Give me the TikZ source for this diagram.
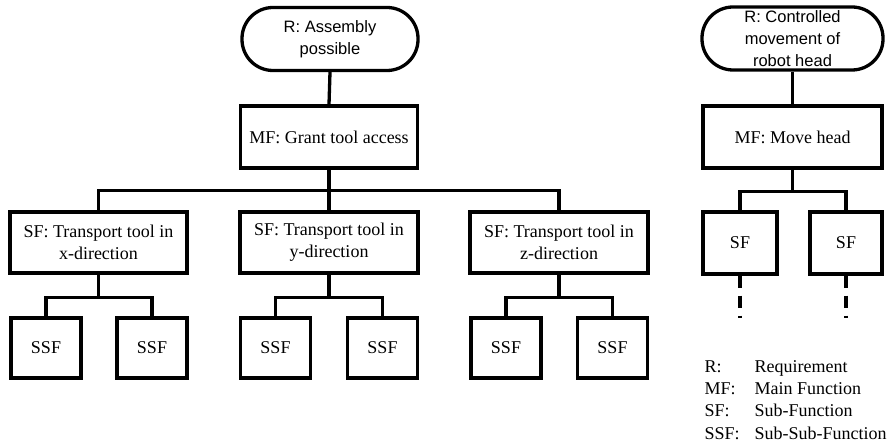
\documentclass[tikz,border=0pt]{standalone}
\usepackage{fontspec}
\setmainfont{Liberation Serif}
\newfontfamily\timesfont{Liberation Serif}
\newfontfamily\arialfont{Liberation Sans}
\begin{document}
\begin{tikzpicture}[x=1pt,y=-1pt,
  line width=3.3pt,
  fbox/.style={draw,rectangle,inner sep=0pt,align=center,
    font=\timesfont\fontsize{18}{22}\selectfont},
  reqbox/.style={draw,rectangle,rounded corners=31pt,inner sep=0pt,align=center,
    minimum height=63pt,font=\arialfont\fontsize{16.5}{22}\selectfont},
  legtext/.style={anchor=base west,inner sep=0pt,font=\timesfont\fontsize{18}{22}\selectfont},
  link/.style={line width=3.3pt},
  cont/.style={line width=3.3pt,dash pattern=on 12pt off 8pt}]
\useasboundingbox (0,0) rectangle (889,443);

% Left tree: requirement, main function, sub-functions
\node[reqbox,minimum width=176pt] (R1) at (330,39) {R: Assembly\\possible};
\node[fbox,minimum width=177pt,minimum height=62pt] (MF1) at (329,137) {MF: Grant tool access};

\node[fbox,minimum width=177pt,minimum height=61pt] (SFx) at (98.5,242.5) {SF: Transport tool in\\x-direction};
\node[fbox,minimum width=178pt,minimum height=61pt] (SFy) at (329,242.5) {SF: Transport tool in\\y-direction};
\node[fbox,minimum width=178pt,minimum height=61pt] (SFz) at (559,242.5) {SF: Transport tool in\\z-direction};

\foreach \n/\cx in {x1/46,x2/152,y1/275.5,y2/382.5,z1/506,z2/612.5}
  \node[fbox,minimum width=70pt,minimum height=60pt] (SSF\n) at (\cx,348) {SSF};

\draw[link] (R1.south) -- (MF1.north);
\draw[link] (MF1.south) -- (SFy.north);
\draw[link] (MF1.south) -- ++(0,21) -| (SFx.north);
\draw[link] (MF1.south) -- ++(0,21) -| (SFz.north);
\foreach \s in {x,y,z}{
  \draw[link] (SF\s.south) -- ++(0,23) -| (SSF\s1.north);
  \draw[link] (SF\s.south) -- ++(0,23) -| (SSF\s2.north);
}

% Right tree
\node[reqbox,minimum width=181pt] (R2) at (792.5,38.5) {R: Controlled\\movement of\\robot head};
\node[fbox,minimum width=179pt,minimum height=62pt] (MF2) at (792.5,137) {MF: Move head};
\node[fbox,minimum width=74pt,minimum height=62pt] (SFa) at (740,243) {SF};
\node[fbox,minimum width=72pt,minimum height=62pt] (SFb) at (846,243) {SF};
\coordinate (ca) at (740,318);
\coordinate (cb) at (846,318);

\draw[link] (R2.south) -- (MF2.north);
\draw[link] (MF2.south) -- ++(0,22) -| (SFa.north);
\draw[link] (MF2.south) -- ++(0,22) -| (SFb.north);
\draw[cont] (SFa.south) -- (ca);
\draw[cont] (SFb.south) -- (cb);

% Legend
\foreach \ab/\full/\yy [count=\i] in {R:/Requirement/373,MF:/Main Function/395,SF:/Sub-Function/417,SSF:/Sub-Sub-Function/439}{
  \node[legtext] (lk\i) at (703,\yy) {\ab};
  \node[legtext] (lv\i) at (753,\yy) {\full};
}
\end{tikzpicture}
\end{document}
